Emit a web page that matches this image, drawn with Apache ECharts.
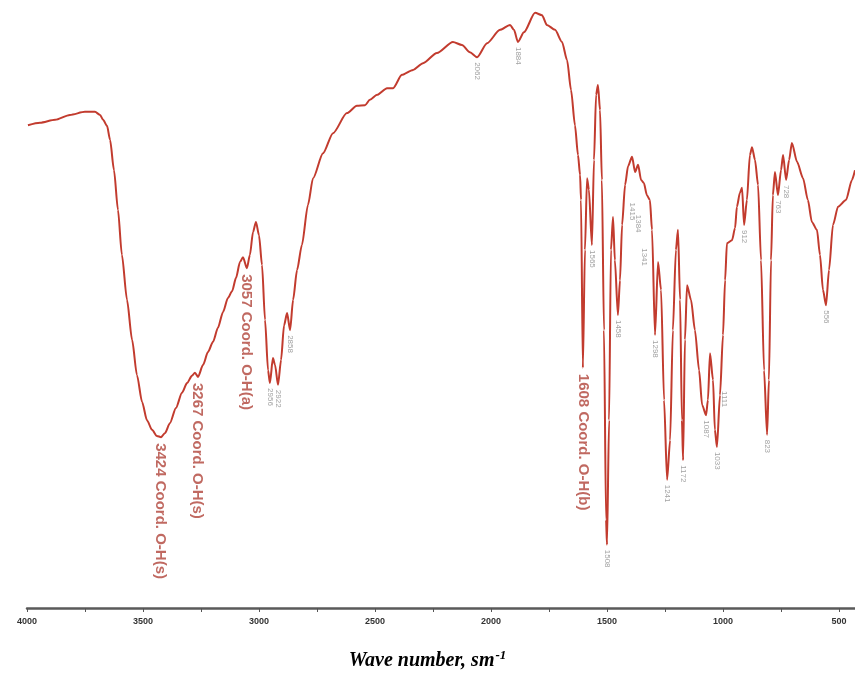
<!DOCTYPE html>
<html>
<head>
<meta charset="utf-8">
<script src="https://cdn.jsdelivr.net/npm/echarts@6/dist/echarts.min.js"></script>
<style>
html,body{margin:0;padding:0;background:#fff;}
#c{width:855px;height:678px;}
</style>
</head>
<body>
<div id="c"></div>
<script>
// Wavenumber (cm-1) and transmittance (%)
const waveNumbers = [3996,3944,3879,3815,3750,3707,3685,3672,3655,3642,3625,3608,3591,3569,3547,3526,3504,3483,3461,3440,3422,3405,3384,3358,3332,3310,3289,3276,3263,3241,3220,3198,3177,3155,3134,3116,3099,3082,3069,3052,3039,3026,3013,3000,2987,2974,2961,2953,2940,2931,2918,2905,2892,2879,2866,2853,2836,2815,2789,2767,2724,2681,2621,2578,2543,2522,2491,2448,2422,2384,2336,2293,2233,2164,2125,2091,2060,2017,1961,1918,1901,1884,1858,1810,1780,1759,1724,1694,1672,1655,1638,1625,1616,1612,1604,1595,1586,1578,1565,1556,1547,1539,1530,1522,1513,1504,1500,1491,1483,1474,1466,1453,1444,1435,1422,1409,1392,1379,1366,1353,1341,1328,1315,1306,1293,1280,1267,1254,1241,1228,1216,1203,1194,1185,1177,1172,1164,1155,1138,1121,1103,1090,1073,1065,1056,1043,1035,1026,1013,1000,991,983,961,948,940,927,918,909,897,884,875,862,849,836,823,810,802,793,785,776,763,750,741,728,715,703,681,655,634,617,595,582,569,556,543,526,504,470,444,431];
const transmittance = [79.4,79.8,80.3,81.1,81.6,81.6,81.1,80.3,79.3,77.0,72.0,65.5,58.1,50.7,44.1,38.3,33.9,30.9,29.3,28.3,28.1,28.8,30.4,32.9,35.4,37.0,38.2,38.7,38.0,40.0,42.1,43.8,46.1,48.7,51.0,52.1,54.3,56.9,57.7,55.9,58.1,61.8,63.5,61.3,56.4,47.4,39.1,37.0,41.1,40.0,36.7,40.8,46.5,48.5,45.7,50.7,55.6,59.7,66.3,70.7,74.8,78.1,81.4,82.6,82.7,83.6,84.4,85.5,85.5,87.7,88.5,89.6,91.3,93.1,92.6,91.4,90.6,92.9,95.1,95.9,95.1,93.1,94.7,97.9,97.5,95.9,95.1,93.1,90.1,85.2,79.4,74.5,71.2,67.1,39.5,58.9,70.7,68.8,59.7,73.7,84.4,86.0,81.9,70.4,45.7,14.5,10.4,30.9,58.9,64.3,57.2,48.2,53.9,63.0,69.6,72.7,74.2,71.7,72.9,70.4,69.9,67.9,67.1,62.2,44.9,56.9,52.3,34.2,21.1,27.6,45.7,58.9,62.2,50.7,30.9,24.3,44.1,53.1,50.7,45.7,39.1,33.4,31.7,34.2,41.9,37.5,29.3,26.5,35.0,44.9,53.9,60.0,60.5,62.5,66.0,68.3,69.1,63.0,67.1,74.5,75.8,73.7,69.6,57.2,39.1,28.5,37.5,57.2,67.9,71.7,67.9,72.0,74.5,70.4,73.7,76.5,73.4,70.7,67.1,63.5,62.2,58.1,52.3,49.8,55.6,63.0,66.0,67.1,70.4,72.0];

// Assigned bands (large labels)
const bandWave = [3424, 3267, 3057, 1603];
const bandT = [28.1, 38.0, 55.9, 39.5];
const bandText = ['3424 Coord. O-H(s)', '3267 Coord. O-H(s)', '3057 Coord. O-H(a)', '1608 Coord. O-H(b)'];

// Other picked peaks (small labels)
const peakWave = [2953, 2918, 2866, 2060, 1884, 1565, 1500, 1453, 1392, 1366, 1341, 1293, 1241, 1172, 1073, 1026, 995, 909, 810, 763, 728, 556];
const peakT = [37.0, 36.7, 45.7, 90.6, 93.1, 59.7, 10.4, 48.2, 67.5, 65.5, 60.0, 44.9, 21.1, 24.3, 31.7, 26.5, 36.5, 63.0, 28.5, 67.9, 70.4, 49.8];
const peakText = ['2956', '2922', '2858', '2062', '1884', '1565', '1508', '1458', '1415', '1384', '1341', '1298', '1241', '1172', '1087', '1033', '1111', '912', '823', '763', '728', '556'];

// Axis ticks / labels
const tickLabels = [4000, 3500, 3000, 2500, 2000, 1500, 1000, 500];
const tickMarks = [4000, 3750, 3500, 3250, 3000, 2750, 2500, 2250, 2000, 1750, 1500, 1250, 1000, 750, 500];

const lineData = waveNumbers.map((w, i) => [w, transmittance[i]]);
const bandData = bandWave.map((w, i) => ({ value: [w, bandT[i]], name: bandText[i] }));
const peakData = peakWave.map((w, i) => ({ value: [w, peakT[i]], name: peakText[i] }));

const chart = echarts.init(document.getElementById('c'), null, { renderer: 'canvas' });
chart.setOption({
  backgroundColor: '#ffffff',
  animation: false,
  title: {
    text: '{a|Wave number, sm}{s|-1}',
    left: 'center',
    top: 644,
    textStyle: {
      rich: {
        a: { fontFamily: 'Liberation Serif', fontWeight: 'bold', fontStyle: 'italic', fontSize: 20, color: '#000' },
        s: { fontFamily: 'Liberation Serif', fontWeight: 'bold', fontStyle: 'italic', fontSize: 13, color: '#000', padding: [0, 0, 10, 1] }
      }
    }
  },
  grid: { left: 27, right: 0, top: 0, bottom: 70 },
  xAxis: {
    type: 'value',
    inverse: true,
    min: 431,
    max: 4000,
    splitLine: { show: false },
    axisLine: { show: true, lineStyle: { color: '#5a5a5a', width: 2.5 } },
    axisTick: { show: true, length: 4, customValues: tickMarks, lineStyle: { color: '#555', width: 1 } },
    minorTick: { show: false },
    axisLabel: {
      customValues: tickLabels,
      formatter: v => String(v),
      color: '#333',
      fontFamily: 'Liberation Sans',
      fontWeight: 'bold',
      fontSize: 9,
      margin: 9
    }
  },
  yAxis: {
    type: 'value',
    min: 0,
    max: 100,
    show: false
  },
  series: [
    {
      type: 'line',
      data: lineData,
      showSymbol: false,
      smooth: 0.25,
      smoothMonotone: 'x',
      lineStyle: { color: '#c23b2e', width: 2 },
      z: 3
    },
    {
      type: 'scatter',
      data: bandData,
      symbolSize: 0,
      z: 4,
      label: {
        show: true,
        position: 'bottom',
        distance: 6,
        rotate: -90,
        align: 'left',
        verticalAlign: 'middle',
        formatter: p => p.name,
        color: '#b0433a',
        fontFamily: 'Liberation Sans',
        fontWeight: 'bold',
        fontSize: 15
      }
    },
    {
      type: 'scatter',
      data: peakData,
      symbolSize: 0,
      z: 4,
      label: {
        show: true,
        position: 'bottom',
        distance: 5,
        rotate: -90,
        align: 'left',
        verticalAlign: 'middle',
        formatter: p => p.name,
        color: '#8a8a8a',
        fontFamily: 'Liberation Sans',
        fontSize: 8
      }
    }
  ]
});
</script>
</body>
</html>
